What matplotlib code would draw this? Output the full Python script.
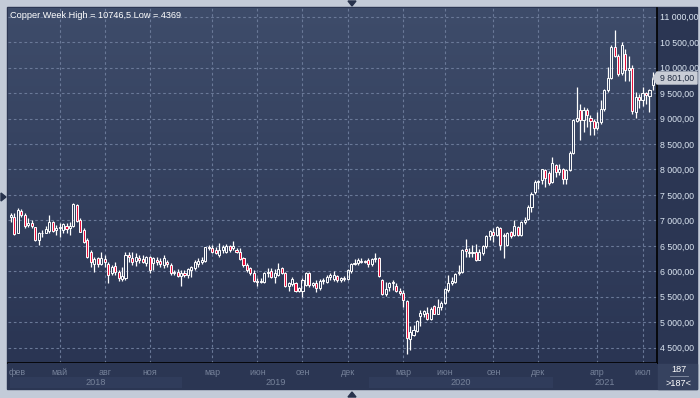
import matplotlib
matplotlib.use("Agg")
import matplotlib.pyplot as plt
import numpy as np
from matplotlib.patches import Rectangle, Polygon

# weekly copper candles
opens = [
    7075, 7075, 6761, 7193, 7108, 6900, 6944, 6866, 6617, 6750,
    6761, 6794, 6964, 6813, 6846, 6813, 6880, 6846, 6892, 7304,
    7010, 6813, 6617, 6388, 6146, 6257, 6146, 6238, 6146, 5976,
    6107, 5996, 5845, 5865, 6323, 6257, 6212, 6257, 6238, 6172,
    6290, 6172, 6225, 6212, 6127, 6192, 6127, 5963, 5996, 5911,
    5963, 5930, 6029, 6061, 6146, 6192, 6205, 6473, 6454, 6421,
    6323, 6421, 6388, 6487, 6454, 6421, 6388, 6256, 6125, 6072,
    5974, 5809, 5783, 5796, 5960, 6013, 5895, 5927, 6059, 5960,
    5710, 5750, 5763, 5618, 5618, 5730, 5960, 5730, 5776, 5664,
    5809, 5796, 5895, 5842, 5908, 5829, 5862, 5842, 6013, 6145,
    6158, 6191, 6210, 6224, 6138, 6237, 6256, 5829, 5552, 5700,
    5763, 5710, 5618, 5566, 5421, 4677, 4743, 4829, 5118, 5171,
    5184, 5072, 5316, 5171, 5289, 5368, 5631, 5763, 5796, 5960,
    5993, 6434, 6388, 6355, 6375, 6224, 6355, 6487, 6684, 6763,
    6717, 6849, 6684, 6520, 6763, 6717, 6868, 6717, 6966, 7018,
    7260, 7555, 7751, 7784, 7980, 7928, 7751, 8078, 7948, 8013,
    7817, 7980, 8327, 8942, 9158, 8962, 9158, 9008, 8942, 8811,
    8929, 9178, 9551, 9793, 10402, 10225, 9898, 10271, 9944, 9989,
    9126, 9420, 9355, 9505, 9440, 9649,
]
highs = [
    7153, 7140, 7238, 7220, 7140, 7042, 7010, 6879, 6781, 6813,
    6892, 7108, 6990, 6911, 6944, 6944, 6944, 6977, 7336, 7330,
    7042, 6846, 6650, 6421, 6290, 6290, 6388, 6323, 6192, 6127,
    6192, 6029, 6081, 6388, 6388, 6388, 6356, 6323, 6323, 6303,
    6303, 6290, 6290, 6257, 6323, 6225, 6159, 6029, 6042, 6029,
    6029, 6061, 6107, 6225, 6257, 6290, 6486, 6519, 6519, 6473,
    6552, 6519, 6538, 6520, 6599, 6454, 6454, 6276, 6158, 6092,
    6026, 5862, 5862, 5993, 6059, 6059, 6039, 6158, 6079, 5993,
    5796, 5895, 5796, 5697, 5862, 5993, 5993, 5796, 5829, 5842,
    5862, 5927, 5960, 6013, 5927, 5895, 5908, 6039, 6171, 6237,
    6256, 6256, 6224, 6256, 6256, 6355, 6289, 5842, 5796, 5796,
    5829, 5763, 5664, 5631, 5434, 4921, 4941, 5052, 5237, 5237,
    5289, 5289, 5335, 5447, 5421, 5664, 5927, 5895, 5974, 6125,
    6434, 6632, 6454, 6520, 6539, 6434, 6520, 6717, 6816, 6849,
    6882, 6868, 6750, 6763, 6783, 7013, 6882, 6980, 7064, 7293,
    7555, 7784, 7784, 8013, 8013, 7961, 8242, 8111, 8111, 8026,
    8013, 8353, 8995, 9616, 9289, 9224, 9204, 9073, 8995, 9126,
    9355, 9584, 10009, 10435, 10746.5, 10271, 10513, 10369, 10238, 10055,
    9518, 9486, 9616, 9518, 9584, 9911,
]
lows = [
    6977, 6715, 6748, 7075, 6846, 6866, 6846, 6604, 6519, 6683,
    6748, 6761, 6781, 6715, 6683, 6748, 6748, 6715, 6879, 6977,
    6781, 6552, 6257, 6094, 5996, 6094, 6127, 6081, 5767, 5930,
    5930, 5800, 5800, 5832, 6192, 6127, 6107, 6159, 6159, 6107,
    5976, 6029, 6127, 6094, 6061, 6094, 5930, 5930, 5885, 5715,
    5885, 5865, 5885, 6029, 6094, 6146, 6192, 6421, 6356, 6340,
    6290, 6356, 6356, 6388, 6421, 6355, 6224, 6092, 5993, 5927,
    5796, 5710, 5763, 5763, 5895, 5862, 5776, 5908, 5947, 5697,
    5618, 5710, 5598, 5598, 5500, 5710, 5697, 5697, 5598, 5631,
    5750, 5763, 5829, 5809, 5796, 5796, 5816, 5829, 5974, 6125,
    6125, 6158, 6158, 6092, 6105, 6191, 5895, 5533, 5513, 5612,
    5631, 5598, 5533, 5302, 4369, 4447, 4723, 4809, 4921, 5105,
    5052, 5039, 5158, 5158, 5237, 5355, 5598, 5730, 5776, 5927,
    5974, 6289, 6289, 6289, 6210, 6224, 6322, 6454, 6618, 6566,
    6684, 6421, 6256, 6487, 6651, 6697, 6684, 6684, 6933, 6998,
    7162, 7522, 7620, 7718, 7653, 7699, 7738, 7849, 7882, 7718,
    7718, 7961, 8307, 8929, 8569, 8733, 8831, 8681, 8681, 8766,
    8896, 9139, 9518, 9780, 10205, 9832, 9846, 9747, 9747, 9093,
    9008, 9204, 9243, 9289, 9126, 9551,
]
closes = [
    7108, 6735, 7206, 7108, 6892, 6950, 6892, 6617, 6748, 6761,
    6826, 6964, 6794, 6846, 6866, 6924, 6830, 6892, 7323, 6990,
    6781, 6584, 6290, 6192, 6238, 6146, 6257, 6192, 5930, 6081,
    5996, 5865, 5911, 6323, 6290, 6192, 6290, 6225, 6192, 6290,
    6029, 6257, 6192, 6146, 6257, 6146, 5963, 5996, 5911, 5963,
    5930, 6042, 6081, 6192, 6212, 6225, 6473, 6454, 6388, 6369,
    6421, 6486, 6499, 6421, 6487, 6388, 6237, 6125, 6026, 5960,
    5809, 5783, 5809, 5960, 5993, 5895, 5974, 6039, 5960, 5710,
    5763, 5842, 5618, 5664, 5829, 5960, 5730, 5763, 5664, 5809,
    5829, 5895, 5927, 5927, 5829, 5862, 5842, 6026, 6145, 6171,
    6224, 6210, 6180, 6138, 6237, 6256, 5908, 5552, 5645, 5763,
    5796, 5618, 5566, 5434, 4697, 4809, 4842, 5026, 5184, 5217,
    5072, 5269, 5171, 5289, 5368, 5651, 5763, 5809, 5947, 5993,
    6421, 6401, 6368, 6388, 6224, 6388, 6487, 6684, 6783, 6717,
    6868, 6520, 6717, 6750, 6697, 6882, 6717, 6960, 6998, 7260,
    7522, 7751, 7764, 8000, 7830, 7738, 8131, 7948, 8013, 7817,
    7980, 8327, 8962, 9008, 8962, 9158, 9060, 8942, 8811, 8929,
    9191, 9551, 9793, 10402, 10225, 9878, 10448, 9944, 9989, 9139,
    9420, 9355, 9505, 9453, 9564, 9801,
]

price_ticks = list(range(4500, 11001, 500))
month_labels = ["фев", "май", "авг", "ноя", "мар", "июн", "сен", "дек",
                "мар", "июн", "сен", "дек", "апр", "июл"]
month_bars = [-0.6, 14, 27, 40, 58, 71, 84, 97, 113, 125, 139, 152, 169, 182]
years = ["2018", "2019", "2020", "2021"]
year_starts = [-0.3, 49.3, 103.2, 156.2]

W, H = 700, 398
BG_TOP, BG_BOT = "#3e4c6a", "#2a3553"
STRIP = "#2b3653"
RED = "#e8103c"
GRID = "#6a7998"


def px(x0, y0, x1, y1):
    return [x0 / W, 1 - y1 / H, (x1 - x0) / W, (y1 - y0) / H]


fig = plt.figure(figsize=(W / 100, H / 100), dpi=100, facecolor="#c3cbd8")
fig.patches.append(Rectangle((7 / W, 1 - 389 / H), 690 / W, 382 / H,
                             transform=fig.transFigure, color=STRIP, zorder=-5))

ax = fig.add_axes(px(8, 8, 657, 363))
xmin, xmax = -0.86, 186.17
ymin, ymax = 4199, 11171
ax.set_xlim(xmin, xmax)
ax.set_ylim(ymin, ymax)

grad = np.linspace(0, 1, 256).reshape(-1, 1)
cmap = matplotlib.colors.LinearSegmentedColormap.from_list("bg", [BG_TOP, BG_BOT])
ax.imshow(grad, cmap=cmap, extent=[0, 1, 0, 1], transform=ax.transAxes,
          aspect="auto", zorder=0)

for p in price_ticks:
    ax.axhline(p, color=GRID, lw=0.8, ls=(0, (2.4, 2.4)), zorder=1)
for b in month_bars[1:]:
    ax.axvline(b, color=GRID, lw=0.8, ls=(0, (2.4, 2.4)), zorder=1)

o = np.array(opens, float)
h = np.array(highs, float)
l = np.array(lows, float)
c = np.array(closes, float)
x = np.arange(len(c))
top = np.maximum(o, c)
bot = np.minimum(o, c)
ax.vlines(x, top, h, color="white", lw=0.9, zorder=2)
ax.vlines(x, l, bot, color="white", lw=0.9, zorder=2)
body = np.maximum(top - bot, 8)
fills = [RED if cc < oo else "none" for oo, cc in zip(o, c)]
ax.bar(x, body, bottom=bot, width=0.6, color=fills, edgecolor="white",
       linewidth=0.7, zorder=3)

for s in ["top", "left"]:
    ax.spines[s].set_visible(False)
ax.spines["right"].set_color("black")
ax.spines["bottom"].set_color("black")
ax.spines["right"].set_linewidth(1.2)
ax.spines["bottom"].set_linewidth(1.2)
ax.set_xticks([])
ax.yaxis.tick_right()
ax.set_yticks(price_ticks)
ax.set_yticklabels([f"{p:,}".replace(",", " ") + ",00" for p in price_ticks],
                   fontsize=6.3, color="#dce6f2", family="Liberation Sans")
ax.tick_params(axis="y", length=0, pad=2.5)

ax.text(2 / 649, 1 - 7 / 355, "Copper Week High = 10746,5 Low = 4369",
        transform=ax.transAxes, fontsize=6.6, color="white",
        family="Liberation Sans", va="center", ha="left")

# bottom date strip
axb = fig.add_axes(px(8, 363, 657, 389), sharex=ax)
axb.set_ylim(0, 1)
axb.set_xticks([])
axb.set_yticks([])
axb.set_facecolor(STRIP)
for s in axb.spines.values():
    s.set_visible(False)
ends = year_starts[1:] + [xmax]
for i, (yr, a, e) in enumerate(zip(years, year_starts, ends)):
    if i % 2 == 0:
        axb.axvspan(a, e, 0.04, 0.46, color="#303c5b", lw=0, zorder=0)
    axb.text((a + e) / 2, 0.25, yr, fontsize=6.6, color="#76829a",
             ha="center", va="center", family="Liberation Sans")
for i, (lab, b) in enumerate(zip(month_labels, month_bars)):
    axb.text(b, 0.64, lab, fontsize=6.4, color="#76829a",
             ha="left" if i == 0 else "center", va="center",
             family="Liberation Sans")

# bar counter box
fig.patches.append(Rectangle((658 / W, 1 - 389 / H), 39 / W, 25 / H,
                             transform=fig.transFigure, color="#36425f", zorder=1))
fig.text(679 / W, 1 - 370 / H, "187", fontsize=6.6, color="white",
         ha="center", va="center", family="Liberation Sans")
fig.text(679 / W, 1 - 383 / H, ">187<", fontsize=6.6, color="white",
         ha="center", va="center", family="Liberation Sans")
fig.lines.append(plt.Line2D([670 / W, 688 / W], [1 - 376 / H, 1 - 376 / H],
                            transform=fig.transFigure, color="#8a94a8", lw=0.6))

# last price marker
yl = 1 - (78 / H)
fig.patches.append(Polygon([(653 / W, yl), (657 / W, yl + 6 / H), (697 / W, yl + 6 / H),
                            (697 / W, yl - 6 / H), (657 / W, yl - 6 / H)],
                           closed=True, transform=fig.transFigure,
                           color="#c9cdd6", zorder=5))
fig.text(660 / W, yl, f"{closes[-1]:,}".replace(",", " ") + ",00", fontsize=6.3,
         color="#1f2a40", ha="left", va="center", family="Liberation Sans", zorder=6)

# small navigation arrows on the frame
tri = "#27324c"
fig.patches.append(Polygon([(348 / W, 1 - 1 / H), (356 / W, 1 - 1 / H), (352 / W, 1 - 6 / H)],
                           transform=fig.transFigure, color=tri))
fig.patches.append(Polygon([(348 / W, 1 - 397 / H), (356 / W, 1 - 397 / H), (352 / W, 1 - 392 / H)],
                           transform=fig.transFigure, color=tri))
fig.patches.append(Polygon([(1 / W, 1 - 193 / H), (1 / W, 1 - 201 / H), (6 / W, 1 - 197 / H)],
                           transform=fig.transFigure, color=tri))

fig.savefig("out.png", dpi=100, facecolor=fig.get_facecolor())
